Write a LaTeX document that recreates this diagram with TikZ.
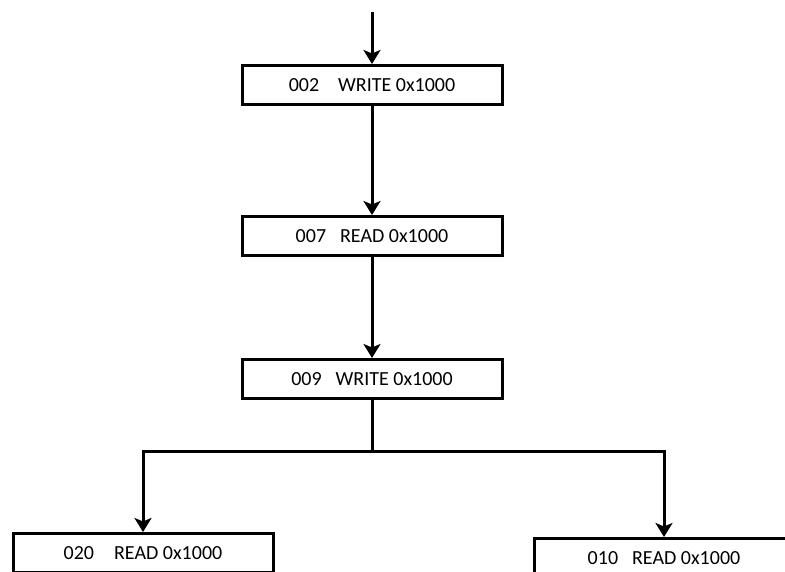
\documentclass[tikz,border=0pt]{standalone}
\usepackage{fontspec}
\setmainfont{Carlito}
\usetikzlibrary{arrows.meta}
\begin{document}
\begin{tikzpicture}[x=1pt,y=-1pt,
        box/.style={draw,line width=3pt,minimum width=260pt,minimum height=39pt,
            inner sep=0pt,font=\fontsize{20}{24}\selectfont},
        arr/.style={line width=3pt,-{Stealth[length=14pt,width=17pt,inset=3.5pt]}}]
\clip (0,0) rectangle (785,572);
\fill[white] (0,0) rectangle (785,572);

\node[box] (w002) at (372,85) {002\hspace{0.95em}WRITE 0x1000};
\node[box] (r007) at (372,236) {007\hspace{0.7em}READ 0x1000};
\node[box] (w009) at (372,379) {009\hspace{0.7em}WRITE 0x1000};
\node[box] (r020) at (143,553) {020\hspace{1em}READ 0x1000};
\node[box] (r010) at (664,558) {010\hspace{0.7em}READ 0x1000};

\coordinate (start) at (372,12);
\coordinate (split) at (372,451);

\draw[arr] (start) -- (w002.north);
\draw[arr] (w002.south) -- (r007.north);
\draw[arr] (r007.south) -- (w009.north);
\draw[line width=3pt] (w009.south) -- (split);
\draw[arr] (split) -| (r020.north);
\draw[arr] (split) -| (r010.north);
\end{tikzpicture}
\end{document}
